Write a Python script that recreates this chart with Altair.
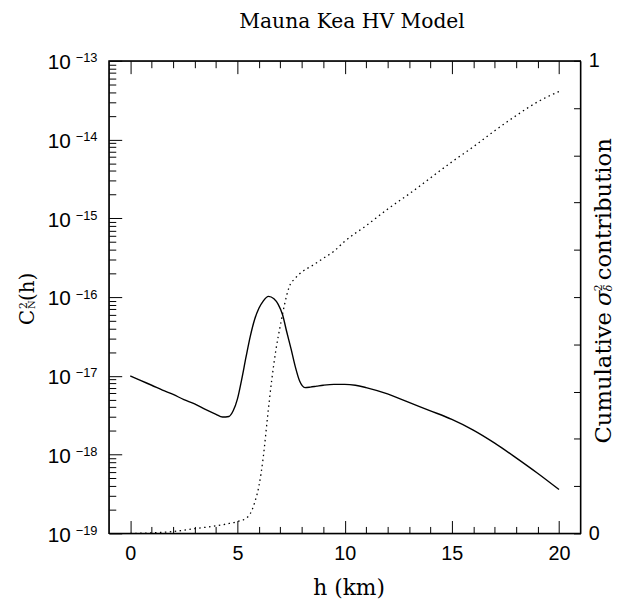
import altair as alt
import pandas as pd

# ---- data ----
h_cn2 = [0, 0.5, 1, 1.5, 2, 2.5, 3, 3.5, 4, 4.3, 4.6, 4.8, 5.0, 5.2, 5.4, 5.6, 5.8, 6.0, 6.2,
         6.45, 6.7, 6.9, 7.1, 7.3, 7.5, 7.7, 7.9, 8.15, 8.4, 8.7, 9, 9.5, 10, 10.5, 11, 12, 13,
         14, 15, 16, 17, 18, 19, 20]
cn2 = [1.0e-17, 8.7e-18, 7.6e-18, 6.6e-18, 5.8e-18, 5.0e-18, 4.4e-18, 3.75e-18, 3.25e-18,
       3.0e-18, 3.05e-18, 3.6e-18, 5.1e-18, 9.1e-18, 1.74e-17, 3.2e-17, 5.2e-17, 7.2e-17,
       8.9e-17, 1.02e-16, 9.5e-17, 8.1e-17, 6.0e-17, 3.6e-17, 2.2e-17, 1.3e-17, 8.6e-18,
       7.1e-18, 7.2e-18, 7.4e-18, 7.6e-18, 7.8e-18, 7.8e-18, 7.6e-18, 7.1e-18, 5.9e-18,
       4.6e-18, 3.6e-18, 2.8e-18, 2.05e-18, 1.4e-18, 9.1e-19, 5.8e-19, 3.6e-19]

h_cum = [0, 1, 2, 3, 4, 4.5, 5, 5.4, 5.6, 5.8, 6.0, 6.2, 6.4, 6.6, 6.8, 7.0, 7.2, 7.4, 7.7,
         8.0, 8.5, 9.0, 9.5, 10, 11, 12, 13, 14, 15, 16, 17, 18, 19, 20]
cum = [0.0, 0.001, 0.004, 0.010, 0.016, 0.020, 0.025, 0.032, 0.042, 0.065, 0.10, 0.16, 0.245,
       0.325, 0.39, 0.44, 0.485, 0.52, 0.54, 0.553, 0.567, 0.582, 0.597, 0.618, 0.651, 0.686,
       0.718, 0.752, 0.786, 0.818, 0.852, 0.884, 0.913, 0.935]

major_x = [0, 5, 10, 15, 20]
minor_x = [i for i in range(1, 20) if i % 5]
major_y = [1e-19, 1e-18, 1e-17, 1e-16, 1e-15, 1e-14, 1e-13]
minor_y = [m * 10.0 ** e for e in range(-19, -13) for m in range(2, 10)]
right_ticks = [round(0.1 * i, 1) for i in range(11)]

W, H = 477, 478

df1 = pd.DataFrame({"h": h_cn2, "cn2": cn2})
df2 = pd.DataFrame({"h": h_cum, "cum": cum})

XS = alt.Scale(domain=[-1, 21], nice=False, zero=False)
YL = alt.Scale(type="log", domain=[1e-19, 1e-13], nice=False)
YR = alt.Scale(domain=[0, 1], nice=False, zero=False)

common = dict(grid=False, domain=False, tickColor="black", tickWidth=1, labelColor="black",
              labelFlush=False, labelOverlap=False, title=None)

# layer 1: solid C_N^2 curve, bottom major ticks + left "10" labels
solid = alt.Chart(df1).mark_line(color="black", strokeWidth=1.4, interpolate="monotone").encode(
    x=alt.X("h:Q", scale=XS, axis=alt.Axis(orient="bottom", values=major_x, tickSize=13, offset=-13,
                                           labelPadding=10, labelFont="Liberation Sans",
                                           labelFontSize=20, format="d", **common)),
    y=alt.Y("cn2:Q", scale=YL, axis=alt.Axis(orient="left", values=major_y, tickSize=13, offset=-13,
                                             labelExpr="'10'", labelPadding=39,
                                             labelFont="Liberation Sans", labelFontSize=21,
                                             labelOffset=2, **common)),
)

# layer 2: invisible copy, bottom minor ticks + left exponent labels
expo = alt.Chart(df1).mark_line(opacity=0).encode(
    x=alt.X("h:Q", scale=XS, axis=alt.Axis(orient="bottom", values=minor_x, tickSize=7, offset=-7,
                                           labels=False, **common)),
    y=alt.Y("cn2:Q", scale=YL, axis=alt.Axis(orient="left", values=major_y, ticks=False,
                                             labelExpr="'\u2212' + format(-round(log(datum.value)/LN10), 'd')",
                                             labelPadding=12, labelFont="Liberation Sans",
                                             labelFontSize=13, labelOffset=-3, **common)),
)

# layer 3: dotted cumulative curve, top major ticks + right axis
dotted = alt.Chart(df2).mark_line(color="black", strokeWidth=1.3, strokeDash=[1.5, 3.5],
                                  interpolate="monotone").encode(
    x=alt.X("h:Q", scale=XS, axis=alt.Axis(orient="top", values=major_x, tickSize=13, offset=-13,
                                           labels=False, **common)),
    y=alt.Y("cum:Q", scale=YR, axis=alt.Axis(orient="right", values=right_ticks, tickSize=7, offset=-7,
                                             labelExpr="datum.value == 0 ? '0' : (datum.value == 1 ? '1' : '')",
                                             labelPadding=8, labelFont="Liberation Sans",
                                             labelFontSize=20, **common)),
)

# layer 4: invisible copy, top minor ticks + left minor ticks
minor = alt.Chart(df1).mark_line(opacity=0).encode(
    x=alt.X("h:Q", scale=XS, axis=alt.Axis(orient="top", values=minor_x, tickSize=7, offset=-7,
                                           labels=False, **common)),
    y=alt.Y("cn2:Q", scale=YL, axis=alt.Axis(orient="left", values=minor_y, tickSize=7, offset=-7,
                                             labels=False, **common)),
)

# plot frame
frame = alt.Chart(pd.DataFrame({"f": [0]})).mark_rect(
    fill=None, fillOpacity=0, stroke="black", strokeWidth=1.2
).encode(x=alt.value(0), x2=alt.value(W), y=alt.value(0), y2=alt.value(H))


def txt(s, x, y, size, angle=0, align="center", font="DejaVu Serif", style="normal"):
    return alt.Chart(pd.DataFrame({"t": [s]})).mark_text(
        font=font, fontSize=size, angle=angle, align=align, baseline="alphabetic",
        color="black", fontStyle=style
    ).encode(text="t:N", x=alt.value(x), y=alt.value(y))


texts = [
    txt("Mauna Kea HV Model", 246, -33, 20.5),
    txt("h (km)", 243, 540, 22),
    # y title  C^2_N(h)
    txt("C", -76, 252, 20, angle=270, align="right"),
    txt("2", -83, 251, 11, angle=270, align="left"),
    txt("N", -75, 251, 10, angle=270, align="left"),
    txt("(h)", -76, 243, 20, angle=270, align="left"),
    # right title  Cumulative sigma^2_delta contribution
    txt("Cumulative", 508, 254, 23, angle=270, align="right"),
    txt("\u03c3", 508, 248, 23, angle=270, align="left", style="italic"),
    txt("2", 499, 233, 11, angle=270, align="left"),
    txt("\u03b4", 509, 233, 11, angle=270, align="left", style="italic"),
    txt("contribution", 508, 222, 23, angle=270, align="left"),
]

chart = alt.layer(solid, expo, dotted, minor, frame, *texts).resolve_scale(
    x="independent", y="independent"
).properties(
    width=W, height=H,
    background="white",
    autosize=alt.AutoSizeParams(type="none"),
    padding={"left": 102, "top": 50, "right": 40, "bottom": 66},
).configure_view(stroke="black", strokeWidth=1)

chart.save("out.html", embed_options={"renderer": "svg", "actions": False})
